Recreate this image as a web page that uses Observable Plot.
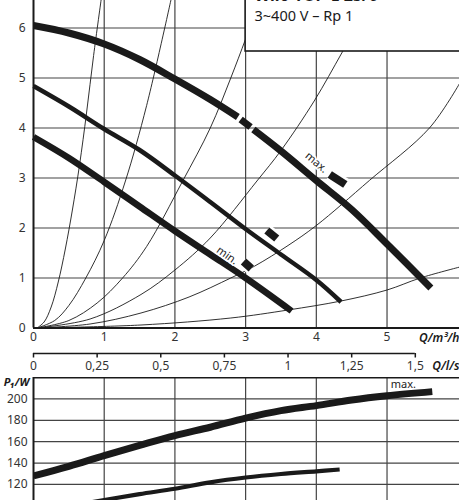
<!DOCTYPE html>
<html><head><meta charset="utf-8">
<script src="https://cdn.jsdelivr.net/npm/d3@7"></script>
<script src="https://cdn.jsdelivr.net/npm/@observablehq/plot@0.6"></script>
<style>
html,body{margin:0;padding:0;background:#fff;overflow:hidden;}
#chart{width:459px;height:500px;overflow:hidden;}
#chart svg{display:block;overflow:hidden;}
</style></head><body><div id="chart"></div>
<script>
// ---- tick values ----
const qTicks = [0, 1, 2, 3, 4, 5];            // Q in m³/h
const hTicks = [0, 1, 2, 3, 4, 5, 6];         // H in m
const pTicks = [120, 140, 160, 180, 200];     // P1 in W
const lsTicks = [0, 0.25, 0.5, 0.75, 1, 1.25, 1.5]; // Q in l/s

// ---- pump curves H(Q) ----
const maxQ   = [0, 0.5, 1, 1.5, 2, 2.5, 2.89, 2.93, 3.07, 3.11, 3.5, 4, 4.5, 5, 5.62];
const maxH   = [6.05, 5.9, 5.68, 5.37, 4.98, 4.57, 4.22, 4.17, 4.02, 3.97, 3.54, 2.95, 2.37, 1.68, 0.8];
const maxSeg = [0, 0, 0, 0, 0, 0, 0, 1, 1, 2, 2, 2, 2, 2, 2];
const midQ = [0, 0.5, 1, 1.5, 2, 2.5, 3, 3.5, 4, 4.35];
const midH = [4.84, 4.43, 3.98, 3.56, 3.05, 2.52, 1.98, 1.47, 0.96, 0.52];
const minQ = [0, 0.5, 1, 1.5, 2, 2.5, 3, 3.65];
const minH = [3.82, 3.4, 2.92, 2.43, 1.94, 1.47, 1.0, 0.34];

// ---- system curves (thin parabolas) ----
const sysAQ = [0.05, 0.15, 0.25, 0.35, 0.45, 0.55, 0.65, 0.75, 0.85, 0.96];
const sysAH = [0, 0.12, 0.42, 0.92, 1.58, 2.36, 3.25, 4.3, 5.45, 6.6];
const sysBQ = [0.05, 0.3, 0.5, 0.74, 1.0, 1.3, 1.6, 1.95];
const sysBH = [0, 0.15, 0.45, 1.0, 1.75, 2.94, 4.45, 6.6];
const sysCQ = [0.05, 0.5, 0.9, 1.26, 1.6, 2.11, 2.5, 2.79, 3.0, 3.2];
const sysCH = [0, 0.15, 0.5, 1.0, 1.63, 2.94, 4.0, 5.0, 5.78, 6.55];
const sysDQ = [0.05, 0.8, 1.52, 2.0, 2.5, 3.16, 3.5, 3.97, 4.36, 4.6];
const sysDH = [0, 0.18, 0.67, 1.16, 1.8, 2.94, 3.55, 4.54, 5.5, 6.1];
const sysEQ = [0.05, 0.8, 1.52, 2.2, 2.79, 3.13, 3.6, 4.0, 4.75, 5.6, 6.03];
const sysEH = [0, 0.08, 0.3, 0.62, 1.0, 1.24, 1.65, 2.05, 2.95, 4.0, 4.9];
const sysFQ = [0.05, 1.52, 2.79, 3.6, 4.35, 5.0, 5.47, 6.03];
const sysFH = [0, 0.06, 0.2, 0.36, 0.54, 0.76, 1.0, 1.22];

// ---- setting markers and labels ----
const markQ1 = [4.19, 3.30, 2.97];
const markH1 = [3.07, 1.95, 1.33];
const markQ2 = [4.41, 3.44, 3.08];
const markH2 = [2.87, 1.79, 1.19];
const labelText = ["max.", "min."];
const labelQ = [4.0, 2.74];
const labelH = [3.31, 1.45];
const labelAngle = [40, 35];

// ---- power curves P1(Q) ----
const pMaxQ = [0, 0.5, 1, 1.5, 2, 2.5, 3, 3.5, 4, 4.5, 5, 5.64];
const pMaxP = [128, 137, 147, 156.5, 165.7, 173.5, 182, 189, 193.7, 199, 203, 206.8];
const pMidQ = [0.5, 1, 1.5, 2, 2.5, 3, 3.5, 4, 4.33];
const pMidP = [99.5, 105.5, 111, 116, 122, 126.5, 129.8, 132.3, 134];

// ---- texts ----
const titleText = "Wilo-TOP-E 25/6";
const subtitleText = "3~400 V – Rp 1";
const xUnitTop = "Q/m³/h";
const xUnitLs = "Q/l/s";
const yUnitP = "P₁/W";
const powerLabel = "max.";

const rows = (qs, vs, name, seg) => qs.map((q, i) => ({q, v: vs[i], name, seg: seg ? seg[i] : 0}));
const sysRows = [
  ...rows(sysAQ, sysAH, "a"), ...rows(sysBQ, sysBH, "b"), ...rows(sysCQ, sysCH, "c"),
  ...rows(sysDQ, sysDH, "d"), ...rows(sysEQ, sysEH, "e"), ...rows(sysFQ, sysFH, "f")
];
const markRows = markQ1.map((q, i) => ({x1: q, y1: markH1[i], x2: markQ2[i], y2: markH2[i]}));
const labelRows = labelText.map((t, i) => ({t, q: labelQ[i], v: labelH[i], a: labelAngle[i]}));

const XDOM = [0, 6.025];
const FONT = "'Noto Sans', sans-serif";
const ink = "#1a1a1a", grid = "#444", txt = "#333";
const thick = {x: "q", y: "v", curve: "catmull-rom", stroke: ink, strokeLinecap: "butt", strokeLinejoin: "round"};
const plain = d => String(d);

const topPlot = Plot.plot({
  width: 459, height: 377,
  marginLeft: 33, marginRight: 0, marginTop: 0, marginBottom: 49.5,
  x: {domain: XDOM, axis: null},
  y: {domain: [0, 6.55], axis: null},
  style: {fontFamily: FONT, background: "white"},
  marks: [
    Plot.ruleX(qTicks.slice(1), {stroke: grid, strokeWidth: 1.2}),
    Plot.ruleY(hTicks.slice(1), {stroke: grid, strokeWidth: 1.2}),
    Plot.line(sysRows, {x: "q", y: "v", z: "name", curve: "catmull-rom", stroke: ink, strokeWidth: 0.9, clip: true}),
    Plot.line(rows(minQ, minH, "min"), {...thick, strokeWidth: 6.5}),
    Plot.line(rows(midQ, midH, "mid"), {...thick, strokeWidth: 4.5}),
    Plot.line(rows(maxQ, maxH, "max", maxSeg), {...thick, z: "seg", strokeWidth: 7}),
    Plot.link(markRows, {x1: "x1", y1: "y1", x2: "x2", y2: "y2", stroke: "white", strokeWidth: 13}),
    Plot.link(markRows, {x1: "x1", y1: "y1", x2: "x2", y2: "y2", stroke: ink, strokeWidth: 8}),
    Plot.text(labelRows, {x: "q", y: "v", text: "t", rotate: "a", fontSize: 11, fill: "#222",
      stroke: "white", strokeWidth: 3.5, paintOrder: "stroke"}),
    Plot.rect([0], {x1: () => 3.0, x2: () => 6.4, y1: () => 5.53, y2: () => 7.5, fill: "white", stroke: ink, strokeWidth: 1.6}),
    Plot.text([titleText], {x: () => 3.126, y: () => 6.64, text: d => d, textAnchor: "start", fontWeight: "bold", fontSize: 16, fill: ink}),
    Plot.text([subtitleText], {x: () => 3.126, y: () => 6.226, text: d => d, textAnchor: "start", fontSize: 14.5, fill: ink}),
    Plot.ruleX([0], {stroke: ink, strokeWidth: 2}),
    Plot.ruleY([0], {stroke: ink, strokeWidth: 2}),
    Plot.axisX(qTicks, {anchor: "bottom", tickSize: 0, tickPadding: 4, fontSize: 12, fill: txt, label: null, tickFormat: plain}),
    Plot.axisY(hTicks, {anchor: "left", tickSize: 0, tickPadding: 8, fontSize: 12, fill: txt, label: null, tickFormat: plain}),
    Plot.text([xUnitTop], {x: () => XDOM[1], y: () => -0.21, text: d => d, textAnchor: "end", fontSize: 12, fontStyle: "italic", fontWeight: 600, fill: ink}),
    // secondary flow axis in l/s (1 l/s = 3.6 m³/h)
    Plot.ruleY([-0.51], {x1: () => 0, x2: () => lsTicks[lsTicks.length - 1] * 3.6, stroke: ink, strokeWidth: 1.5}),
    Plot.ruleX(lsTicks, {x: d => d * 3.6, y1: () => -0.51, y2: () => -0.6, stroke: ink, strokeWidth: 1.5}),
    Plot.text(lsTicks, {x: d => d * 3.6, y: () => -0.76, text: d => String(d).replace(".", ","), fontSize: 12, fill: txt}),
    Plot.text([xUnitLs], {x: () => XDOM[1], y: () => -0.76, text: d => d, textAnchor: "end", fontSize: 12, fontStyle: "italic", fontWeight: 600, fill: ink})
  ]
});

const botPlot = Plot.plot({
  width: 459, height: 123,
  marginLeft: 33, marginRight: 0, marginTop: 0, marginBottom: 0,
  x: {domain: XDOM, axis: null},
  y: {domain: [105, 220], axis: null},
  style: {fontFamily: FONT, background: "white"},
  marks: [
    Plot.ruleX(qTicks.slice(1), {stroke: grid, strokeWidth: 1.2}),
    Plot.ruleY(pTicks, {stroke: grid, strokeWidth: 1.2}),
    Plot.line(rows(pMaxQ, pMaxP, "pmax"), {...thick, strokeWidth: 7, clip: true}),
    Plot.line(rows(pMidQ, pMidP, "pmid"), {...thick, strokeWidth: 4.2, clip: true}),
    Plot.ruleX([0], {stroke: ink, strokeWidth: 2}),
    Plot.ruleY([220], {stroke: ink, strokeWidth: 2.2}),
    Plot.axisY(pTicks, {anchor: "left", tickSize: 0, tickPadding: 6, fontSize: 12, fill: txt, label: null, tickFormat: plain}),
    Plot.text([yUnitP], {x: () => -0.06, y: () => 215.2, text: d => d, textAnchor: "end", fontSize: 11, fontStyle: "italic", fontWeight: 700, fill: ink}),
    Plot.text([powerLabel], {x: () => 5.23, y: () => 213.8, text: d => d, fontSize: 11, fill: "#222"})
  ]
});

const root = document.getElementById("chart");
root.appendChild(topPlot);
root.appendChild(botPlot);
</script>
</body></html>
